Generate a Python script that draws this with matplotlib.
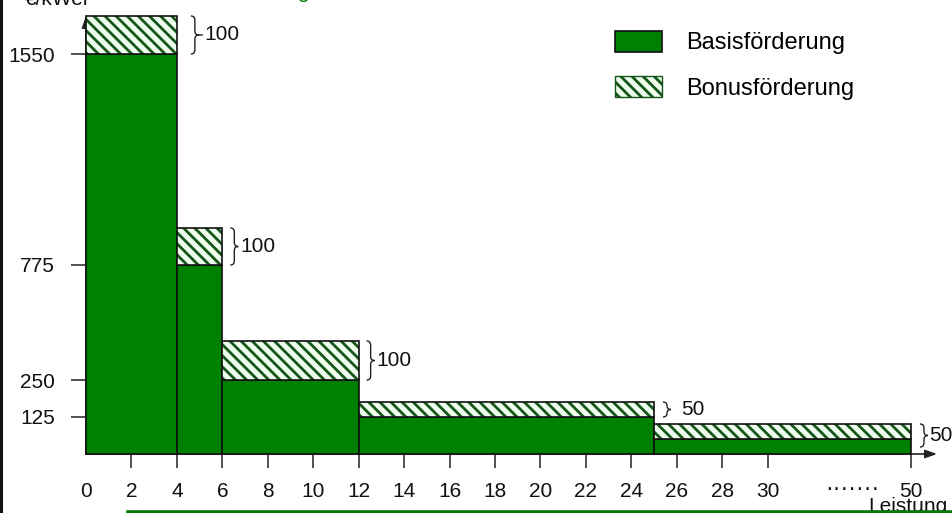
import numpy as np
import matplotlib
matplotlib.use('Agg')
import matplotlib.pyplot as plt
from matplotlib.path import Path
from matplotlib.patches import PathPatch, Patch
from matplotlib.lines import Line2D
from matplotlib.transforms import IdentityTransform

plt.rcParams['font.family'] = ['Liberation Sans', 'DejaVu Sans']
plt.rcParams['hatch.linewidth'] = 2.0

# ---------------- data ----------------
bin_left = [0, 4, 6, 12, 25]
bin_right = [4, 6, 12, 25, 50]
basis = [1550, 775, 250, 125, 50]
bonus = [100, 100, 100, 50, 50]
bonus_labels = ['100', '100', '100', '50', '50']
y_ticks = [125, 250, 775, 1550]
y_ticklabels = ['125', '250', '775', '1550']
x_ticks = [0, 2, 4, 6, 8, 10, 12, 14, 16, 18, 20, 22, 24, 26, 28, 30, 50]
x_ticklabels = ['0', '2', '4', '6', '8', '10', '12', '14', '16', '18', '20',
                '22', '24', '26', '28', '30', '50']
legend_labels = ['Basisförderung', 'Bonusförderung']

# ---------------- schematic (non-linear) scales ----------------
x_anchor_val = [0, 30, 50, 80]
x_anchor_pos = [0, 30, 36.31, 45.78]
y_anchor_val = [0, 50, 100, 125, 175, 250, 350, 775, 875, 1550, 1650, 3000]
y_anchor_pos = [0, 15, 30, 37, 52, 74, 113, 189, 226, 400, 438, 951]

def fx(v):
    return np.interp(v, x_anchor_val, x_anchor_pos)
def fx_inv(p):
    return np.interp(p, x_anchor_pos, x_anchor_val)
def fy(v):
    return np.interp(v, y_anchor_val, y_anchor_pos)
def fy_inv(p):
    return np.interp(p, y_anchor_pos, y_anchor_val)

W, H = 953, 513
fig = plt.figure(figsize=(W / 100, H / 100), dpi=100)
ax_l, ax_r, ax_b, ax_t = 86, 937, 454, 16
ax = fig.add_axes([ax_l / W, 1 - ax_b / H, (ax_r - ax_l) / W, (ax_b - ax_t) / H])
ax.set_xscale('function', functions=(fx, fx_inv))
ax.set_yscale('function', functions=(fy, fy_inv))
px_per_unit = 22.72
ax.set_xlim(0, float(fx_inv((ax_r - ax_l) / px_per_unit)))
ax.set_ylim(0, 1650)

GREEN = '#008000'
HATCH_C = '#17561a'
HATCH_BG = '#eefcee'
HATCH = '\\\\\\'

lefts = np.array(bin_left)
widths = np.array(bin_right) - lefts
basis = np.array(basis)
bonus = np.array(bonus)

ax.bar(lefts, basis, width=widths, align='edge', color=GREEN,
       edgecolor='#111111', linewidth=1.2, zorder=3, clip_on=False)
ax.bar(lefts, bonus, width=widths, bottom=basis, align='edge',
       facecolor=HATCH_BG, edgecolor=HATCH_C, hatch=HATCH, linewidth=0,
       zorder=3, clip_on=False)
ax.bar(lefts, bonus, width=widths, bottom=basis, align='edge',
       fill=False, edgecolor='#111111', linewidth=1.2, zorder=4, clip_on=False)

for s in ax.spines.values():
    s.set_visible(False)

arrow_kw = dict(arrowstyle='-|>,head_length=0.7,head_width=0.25', color='#222222',
                lw=1.2, shrinkA=0, shrinkB=0)
ax.annotate('', xy=(1, 0), xytext=(0, 0), xycoords='axes fraction',
            arrowprops=arrow_kw, zorder=1, annotation_clip=False)
ax.annotate('', xy=(0, 1), xytext=(0, 0), xycoords='axes fraction',
            arrowprops=arrow_kw, zorder=1, annotation_clip=False)

ax.set_xticks(x_ticks, x_ticklabels)
ax.set_yticks(y_ticks, y_ticklabels)
ax.minorticks_off()
ax.tick_params(axis='x', length=10, width=1.2, pad=10, labelsize=15,
               color='#333333', labelcolor='#111111')
ax.tick_params(axis='y', length=11, width=1.2, pad=11.5, labelsize=15,
               color='#333333', labelcolor='#111111')
ax.xaxis.get_major_ticks()[0].tick1line.set_visible(False)

# ---------------- braces with bonus values ----------------
brace_gap = [14, 8, 8, 9, 9]
tip_ext = [4, 0, 0, 0, 0]
label_gap = [1, 2, 2, 10, 1]
extra_bottom = [0, 0, 0, 0, 8]
ident = IdentityTransform()

def brace(x0, ytop, ybot, w=8, ext=0):
    ymid = (ytop + ybot) / 2
    r = min(4.0, (ytop - ybot) / 4)
    xm = x0 + w / 2
    verts = [(x0, ytop), (xm, ytop), (xm, ytop - r), (xm, ymid + r),
             (xm, ymid), (x0 + w, ymid), (xm, ymid), (xm, ymid - r),
             (xm, ybot + r), (xm, ybot), (x0, ybot)]
    codes = [Path.MOVETO, Path.CURVE3, Path.CURVE3, Path.LINETO,
             Path.CURVE3, Path.CURVE3, Path.CURVE3, Path.CURVE3,
             Path.LINETO, Path.CURVE3, Path.CURVE3]
    if ext:
        verts += [(x0 + w, ymid), (x0 + w + ext, ymid)]
        codes += [Path.MOVETO, Path.LINETO]
    p = PathPatch(Path(verts, codes), fill=False, edgecolor='#222222',
                  linewidth=1.0, transform=ident)
    fig.add_artist(p)
    return x0 + w + ext, ymid

for i in range(len(bin_left)):
    xr, ytop = ax.transData.transform((bin_right[i], basis[i] + bonus[i]))
    _, ybot = ax.transData.transform((bin_right[i], basis[i]))
    xe, ym = brace(xr + brace_gap[i], ytop, ybot - extra_bottom[i], ext=tip_ext[i])
    fig.text(xe + label_gap[i], ym, bonus_labels[i], transform=ident,
             ha='left', va='center', fontsize=15, color='#111111')

# ---------------- legend ----------------
handles = [Patch(facecolor=GREEN, edgecolor='#111111', linewidth=1.2),
           Patch(facecolor=HATCH_BG, edgecolor=HATCH_C, hatch=HATCH, linewidth=1.0)]
fig.legend(handles, legend_labels, loc='upper left',
           bbox_to_anchor=(615 / W, 1 - 31 / H), frameon=False, fontsize=17,
           handlelength=2.0, handleheight=0.97, handletextpad=1.0,
           labelspacing=0.93, borderpad=0, borderaxespad=0)

# ---------------- decorations ----------------
fig.text(25 / W, 1 - 5 / H, '€/kWel', ha='left', va='baseline', fontsize=15,
         color='#111111')
fig.text(310 / W, 1 + 1.5 / H, 'Förderung', ha='right', va='baseline', fontsize=15,
         color=GREEN)
fig.text(825 / W, 1 - 495 / H, '·······', ha='left', va='baseline', fontsize=17,
         color='#111111')
fig.text(868 / W, 1 - 512 / H, 'Leistung', ha='left', va='baseline', fontsize=15,
         color='#111111')
fig.add_artist(Line2D([128 / W, 1], [1 - 511.5 / H] * 2, color='#007a00', lw=2.6,
                      zorder=10))
fig.add_artist(Line2D([1.5 / W] * 2, [0, 1], color='#111111', lw=2.2, zorder=10))

fig.savefig('out.png', dpi=100)
